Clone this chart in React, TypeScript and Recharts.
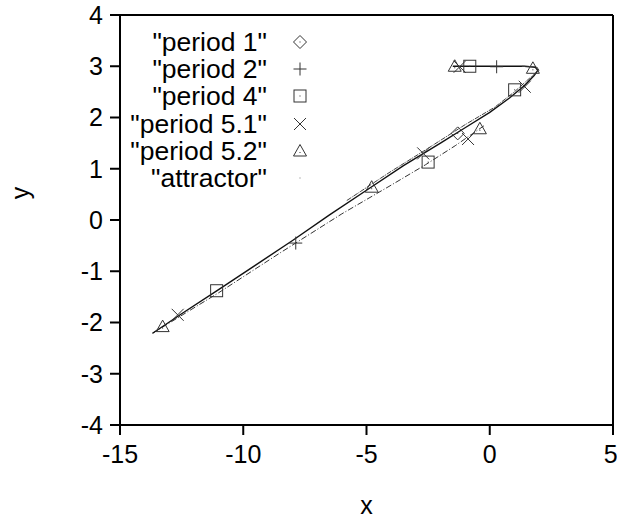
import React from 'react';
import { ComposedChart, Scatter, XAxis, YAxis, ReferenceLine } from 'recharts';

type Pt = { x: number; y: number };

const xTicks = [-15, -10, -5, 0, 5];
const yTicks = [-4, -3, -2, -1, 0, 1, 2, 3, 4];

// periodic orbits
const period1: Pt[] = [{ x: -1.3, y: 1.69 }];
const period2: Pt[] = [{ x: 0.28, y: 2.99 }, { x: -7.87, y: -0.45 }];
const period4: Pt[] = [
    { x: -0.81, y: 3.0 }, { x: 1.01, y: 2.54 }, { x: -2.5, y: 1.13 }, { x: -11.08, y: -1.38 },
];
const period51: Pt[] = [
    { x: -1.22, y: 2.99 }, { x: 1.42, y: 2.6 }, { x: -0.88, y: 1.58 }, { x: -2.7, y: 1.3 }, { x: -12.66, y: -1.85 },
];
const period52: Pt[] = [
    { x: -1.42, y: 3.0 }, { x: 1.75, y: 2.96 }, { x: -0.4, y: 1.78 }, { x: -4.79, y: 0.64 }, { x: -13.27, y: -2.08 },
];

// attractor strands
const attractorUpper: Pt[] = [
    { x: -13.68, y: -2.21 }, { x: -12.5, y: -1.83 }, { x: -11, y: -1.36 }, { x: -9.5, y: -0.88 },
    { x: -8, y: -0.4 }, { x: -6.5, y: 0.1 }, { x: -5, y: 0.58 }, { x: -3.5, y: 1.06 },
    { x: -2, y: 1.5 }, { x: -1, y: 1.8 }, { x: 0, y: 2.1 }, { x: 0.8, y: 2.38 },
    { x: 1.4, y: 2.62 }, { x: 1.8, y: 2.82 }, { x: 1.95, y: 2.92 }, { x: 1.85, y: 2.98 },
    { x: 1.4, y: 3.0 }, { x: 0.5, y: 3.0 }, { x: -0.5, y: 3.0 }, { x: -1.5, y: 3.0 },
];
const attractorUpper2: Pt[] = [
    { x: -5.8, y: 0.38 }, { x: -4, y: 0.95 }, { x: -2.5, y: 1.4 }, { x: -1, y: 1.86 },
    { x: 0.2, y: 2.2 }, { x: 1.0, y: 2.5 }, { x: 1.6, y: 2.76 }, { x: 2.0, y: 2.92 },
    { x: 1.9, y: 2.99 }, { x: 1.3, y: 3.0 },
];
const attractorLower: Pt[] = [
    { x: -13.68, y: -2.21 }, { x: -11, y: -1.42 }, { x: -8.5, y: -0.64 }, { x: -6, y: 0.12 },
    { x: -4, y: 0.68 }, { x: -2.6, y: 1.08 }, { x: -1.4, y: 1.45 }, { x: -0.2, y: 1.85 },
];

const INK = '#333';
const FONT = '"Liberation Sans", Arial, Helvetica, sans-serif';

const Diamond = ({ cx, cy }: any) => (
    <g>
        <path d={`M${cx},${cy - 6.5}L${cx + 6.5},${cy}L${cx},${cy + 6.5}L${cx - 6.5},${cy}Z`} fill="none" stroke={INK} strokeWidth={1} />
        <rect x={cx - 0.5} y={cy - 0.5} width={1} height={1} fill={INK} />
    </g>
);
const Plus = ({ cx, cy }: any) => (
    <path d={`M${cx - 6.5},${cy}H${cx + 6.5}M${cx},${cy - 6.5}V${cy + 6.5}`} stroke={INK} strokeWidth={1} fill="none" />
);
const Square = ({ cx, cy }: any) => (
    <g>
        <rect x={cx - 6} y={cy - 6} width={12} height={12} fill="none" stroke={INK} strokeWidth={1} />
        <rect x={cx - 0.5} y={cy - 0.5} width={1} height={1} fill={INK} />
    </g>
);
const Cross = ({ cx, cy }: any) => (
    <path d={`M${cx - 6},${cy - 6}L${cx + 6},${cy + 6}M${cx + 6},${cy - 6}L${cx - 6},${cy + 6}`} stroke={INK} strokeWidth={1} fill="none" />
);
const Triangle = ({ cx, cy }: any) => (
    <g>
        <path d={`M${cx},${cy - 6.5}L${cx + 6.5},${cy + 5}L${cx - 6.5},${cy + 5}Z`} fill="none" stroke={INK} strokeWidth={1} />
        <rect x={cx - 0.5} y={cy + 1} width={1} height={1} fill={INK} />
    </g>
);
const Dot = ({ cx, cy }: any) => <rect x={cx - 0.5} y={cy - 0.5} width={1} height={1} fill="#777" />;
const NoDot = () => null;

const legendItems = [
    { name: '"period 1"', Shape: Diamond },
    { name: '"period 2"', Shape: Plus },
    { name: '"period 4"', Shape: Square },
    { name: '"period 5.1"', Shape: Cross },
    { name: '"period 5.2"', Shape: Triangle },
    { name: '"attractor"', Shape: Dot },
];

export default function App() {
    return (
        <div style={{ position: 'absolute', left: 0, top: 0, width: 617, height: 518, background: '#fff', fontFamily: FONT }}>
            <ComposedChart width={617} height={518} margin={{ top: 15, right: 4, left: 0, bottom: 0 }}>
                <XAxis
                    type="number"
                    dataKey="x"
                    domain={[-15, 5]}
                    ticks={xTicks}
                    allowDataOverflow
                    height={93}
                    axisLine={{ stroke: '#000', strokeWidth: 2 }}
                    tickLine={{ stroke: '#000', strokeWidth: 2 }}
                    tickSize={10}
                    tickMargin={10}
                    tick={{ fontSize: 25, fill: '#000', fontFamily: FONT }}
                    label={{ value: 'x', position: 'insideBottom', offset: 4, fontSize: 25, fill: '#000', fontFamily: FONT }}
                />
                <YAxis
                    type="number"
                    dataKey="y"
                    domain={[-4, 4]}
                    ticks={yTicks}
                    allowDataOverflow
                    width={120}
                    axisLine={{ stroke: '#000', strokeWidth: 2 }}
                    tickLine={{ stroke: '#000', strokeWidth: 2 }}
                    tickSize={10}
                    tickMargin={7}
                    tick={{ fontSize: 25, fill: '#000', fontFamily: FONT }}
                    label={{
                        content: () => (
                            <text x={20} y={193} transform="rotate(-90 20 193)" textAnchor="middle" dominantBaseline="central" fontSize={25} fill="#000" fontFamily={FONT}>y</text>
                        ),
                    }}
                />
                <ReferenceLine y={4} stroke="#000" strokeWidth={2} />
                <ReferenceLine x={5} stroke="#000" strokeWidth={2} />

                <Scatter data={attractorLower} line={{ stroke: '#333', strokeWidth: 1, strokeDasharray: '6 2 1 2' }} shape={NoDot} isAnimationActive={false} />
                <Scatter data={attractorUpper} line={{ stroke: '#111', strokeWidth: 1.4 }} shape={NoDot} isAnimationActive={false} />
                <Scatter data={attractorUpper2} line={{ stroke: '#444', strokeWidth: 1, strokeDasharray: '5 1 1 1' }} shape={NoDot} isAnimationActive={false} />

                <Scatter data={period1} shape={Diamond} isAnimationActive={false} />
                <Scatter data={period2} shape={Plus} isAnimationActive={false} />
                <Scatter data={period4} shape={Square} isAnimationActive={false} />
                <Scatter data={period51} shape={Cross} isAnimationActive={false} />
                <Scatter data={period52} shape={Triangle} isAnimationActive={false} />
            </ComposedChart>

            {/* Legend */}
            {legendItems.map((item, i) => {
                const cy = 42 + i * 27.2;
                return (
                    <React.Fragment key={item.name}>
                        <div style={{ position: 'absolute', left: 0, width: 267, top: cy - 14, lineHeight: '28px', fontSize: 26.5, textAlign: 'right', color: '#000', whiteSpace: 'nowrap' }}>
                            {item.name}
                        </div>
                        <svg style={{ position: 'absolute', left: 292, top: cy - 8 }} width={16} height={16}>
                            <item.Shape cx={8} cy={8} />
                        </svg>
                    </React.Fragment>
                );
            })}
        </div>
    );
}
